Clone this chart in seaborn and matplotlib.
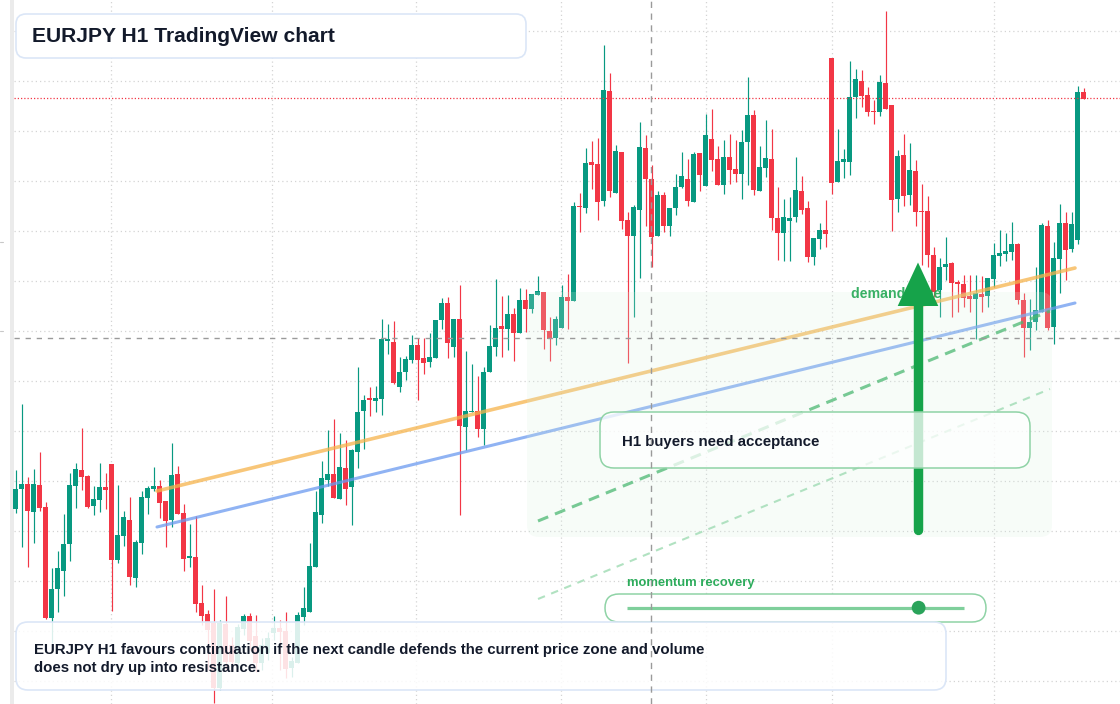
"""EURJPY H1 candlestick chart with annotation overlays."""
import matplotlib

matplotlib.use("Agg")
import matplotlib.pyplot as plt
import numpy as np
import pandas as pd
import seaborn as sns
from matplotlib.patches import FancyBboxPatch, Polygon, Circle, Rectangle
from matplotlib.transforms import Affine2D

W, H = 1120, 704

# ---- candle data (EURJPY, H1) ----
opens = [
    162.455, 162.555, 162.580, 162.440, 162.575, 162.465, 161.910, 162.055, 162.145, 162.280,
    162.570, 162.650, 162.620, 162.470, 162.500, 162.565, 162.680, 162.200, 162.320, 162.400,
    162.110, 162.285, 162.510, 162.555, 162.570, 162.495, 162.400, 162.630, 162.435, 162.210,
    162.215, 161.985, 161.930, 161.885, 161.560, 161.880, 161.775, 161.685, 161.855, 161.920,
    161.820, 161.685, 161.735, 161.835, 161.860, 161.845, 161.660, 161.685, 161.915, 161.940,
    162.165, 162.425, 162.600, 162.630, 162.505, 162.660, 162.565, 162.740, 162.945, 163.005,
    162.995, 163.005, 163.295, 163.290, 163.065, 163.140, 163.200, 163.275, 163.210, 163.190,
    163.210, 163.400, 163.485, 163.265, 163.405, 162.865, 162.940, 162.945, 162.855, 163.140,
    163.265, 163.370, 163.355, 163.430, 163.335, 163.500, 163.455, 163.525, 163.540, 163.345,
    163.310, 163.360, 163.515, 163.495, 163.970, 163.960, 164.190, 164.180, 163.995, 164.545,
    164.035, 164.240, 163.900, 163.820, 163.950, 164.260, 164.105, 163.820, 164.025, 163.870,
    163.960, 164.065, 164.105, 163.990, 164.235, 164.070, 164.305, 164.205, 164.075, 164.215,
    164.155, 164.130, 164.290, 164.425, 164.045, 164.160, 164.205, 163.910, 163.835, 163.895,
    163.915, 164.045, 163.960, 163.715, 163.805, 163.850, 164.710, 164.090, 164.190, 164.190,
    164.515, 164.595, 164.525, 164.445, 164.440, 164.585, 164.475, 164.005, 164.225, 164.025,
    164.145, 163.945, 163.945, 163.725, 163.550, 163.665, 163.685, 163.590, 163.580, 163.520,
    163.505, 163.530, 163.520, 163.605, 163.720, 163.730, 163.740, 163.780, 163.500, 163.360,
    163.390, 163.440, 163.870, 163.365, 163.705, 163.885, 163.755, 163.800, 164.540,
]
highs = [
    162.650, 162.980, 162.615, 162.655, 162.740, 162.490, 162.160, 162.245, 162.430, 162.635,
    162.685, 162.860, 162.625, 162.570, 162.685, 162.635, 162.680, 162.575, 162.445, 162.515,
    162.300, 162.545, 162.570, 162.665, 162.600, 162.495, 162.785, 162.670, 162.480, 162.380,
    162.420, 162.075, 161.950, 162.055, 161.900, 162.020, 161.815, 161.880, 161.930, 161.935,
    161.925, 161.810, 161.840, 161.920, 161.900, 161.940, 161.715, 161.940, 162.065, 162.285,
    162.545, 162.695, 162.850, 162.905, 162.835, 162.800, 162.755, 163.165, 163.025, 163.065,
    163.070, 163.405, 163.380, 163.395, 163.215, 163.220, 163.325, 163.310, 163.310, 163.335,
    163.400, 163.510, 163.515, 163.405, 163.575, 163.245, 163.180, 163.120, 163.165, 163.375,
    163.605, 163.520, 163.525, 163.460, 163.560, 163.555, 163.530, 163.620, 163.540, 163.415,
    163.420, 163.575, 163.630, 163.990, 164.035, 164.260, 164.295, 164.310, 164.775, 164.635,
    164.275, 164.240, 163.940, 163.975, 164.390, 164.325, 164.175, 164.045, 164.040, 163.960,
    164.130, 164.240, 164.205, 164.240, 164.235, 164.430, 164.455, 164.270, 164.300, 164.330,
    164.300, 164.350, 164.615, 164.450, 164.270, 164.400, 164.355, 164.065, 164.005, 164.015,
    164.215, 164.120, 163.995, 163.810, 163.885, 164.000, 164.710, 164.355, 164.255, 164.695,
    164.655, 164.650, 164.565, 164.500, 164.625, 164.945, 164.475, 164.250, 164.330, 164.285,
    164.200, 164.080, 164.020, 163.765, 163.710, 163.815, 163.690, 163.600, 163.625, 163.625,
    163.625, 163.620, 163.610, 163.785, 163.850, 163.835, 163.890, 163.785, 163.535, 163.505,
    163.665, 163.885, 163.900, 163.790, 163.980, 163.940, 163.940, 164.570, 164.560,
]
lows = [
    162.435, 162.265, 162.165, 162.285, 162.445, 161.905, 161.785, 161.940, 162.020, 162.195,
    162.460, 162.550, 162.460, 162.425, 162.440, 162.455, 161.945, 162.185, 162.270, 162.075,
    162.065, 162.230, 162.430, 162.545, 162.410, 162.265, 162.365, 162.430, 162.145, 162.165,
    161.940, 161.875, 161.650, 161.485, 161.550, 161.650, 161.650, 161.660, 161.825, 161.750,
    161.640, 161.650, 161.700, 161.800, 161.650, 161.610, 161.615, 161.685, 161.875, 161.940,
    162.165, 162.385, 162.570, 162.510, 162.505, 162.475, 162.375, 162.660, 162.755, 162.920,
    162.940, 162.925, 163.230, 163.080, 163.040, 163.100, 163.185, 163.000, 163.130, 163.165,
    163.210, 163.355, 163.210, 163.215, 162.425, 162.750, 162.940, 162.815, 162.775, 163.140,
    163.220, 163.215, 163.250, 163.195, 163.335, 163.340, 163.435, 163.525, 163.255, 163.195,
    163.275, 163.360, 163.355, 163.495, 163.840, 163.935, 164.055, 163.900, 163.970, 164.015,
    164.035, 163.855, 163.185, 163.415, 163.610, 163.870, 163.665, 163.820, 163.840, 163.820,
    163.925, 164.060, 163.970, 163.990, 164.045, 164.070, 164.145, 164.075, 164.030, 164.080,
    164.090, 164.005, 164.075, 164.025, 164.045, 164.115, 163.850, 163.700, 163.695, 163.695,
    163.890, 163.930, 163.690, 163.675, 163.755, 163.765, 164.030, 164.090, 164.110, 164.125,
    164.410, 164.465, 164.420, 164.380, 164.420, 164.455, 163.845, 163.940, 163.970, 163.975,
    163.870, 163.675, 163.665, 163.515, 163.415, 163.600, 163.415, 163.440, 163.465, 163.440,
    163.305, 163.440, 163.465, 163.565, 163.670, 163.695, 163.700, 163.480, 163.215, 163.250,
    163.350, 163.440, 163.350, 163.280, 163.535, 163.600, 163.740, 163.780, 164.505,
]
closes = [
    162.555, 162.580, 162.445, 162.580, 162.460, 161.910, 162.055, 162.160, 162.280, 162.575,
    162.655, 162.615, 162.465, 162.505, 162.565, 162.550, 162.200, 162.325, 162.415, 162.115,
    162.290, 162.515, 162.560, 162.570, 162.485, 162.395, 162.625, 162.430, 162.205, 162.215,
    161.980, 161.920, 161.850, 161.560, 161.885, 161.690, 161.690, 161.865, 161.920, 161.795,
    161.685, 161.775, 161.810, 161.860, 161.840, 161.655, 161.695, 161.925, 161.960, 162.170,
    162.440, 162.610, 162.630, 162.510, 162.665, 162.555, 162.750, 162.940, 163.000, 163.000,
    163.010, 163.305, 163.305, 163.085, 163.140, 163.205, 163.275, 163.200, 163.185, 163.215,
    163.400, 163.485, 163.285, 163.405, 162.870, 162.945, 162.945, 162.855, 163.140, 163.270,
    163.360, 163.355, 163.430, 163.335, 163.500, 163.455, 163.530, 163.545, 163.350, 163.305,
    163.405, 163.515, 163.495, 163.970, 163.965, 164.185, 164.175, 163.990, 164.550, 164.045,
    164.245, 163.895, 163.820, 163.965, 164.265, 164.105, 163.815, 164.025, 163.870, 163.960,
    164.065, 164.120, 163.995, 164.230, 164.125, 164.325, 164.200, 164.075, 164.215, 164.150,
    164.130, 164.290, 164.425, 164.050, 164.165, 164.210, 163.910, 163.835, 163.915, 163.910,
    164.050, 163.950, 163.715, 163.810, 163.850, 163.830, 164.085, 164.195, 164.205, 164.515,
    164.605, 164.520, 164.440, 164.440, 164.590, 164.455, 164.000, 164.220, 164.020, 164.150,
    163.940, 163.940, 163.725, 163.540, 163.665, 163.680, 163.585, 163.580, 163.510, 163.505,
    163.535, 163.515, 163.610, 163.725, 163.735, 163.745, 163.780, 163.500, 163.360, 163.390,
    163.450, 163.875, 163.360, 163.710, 163.885, 163.750, 163.880, 164.540, 164.505,
]

# ---- drawn levels / trend lines (bar index, price) ----
orange_x = [23.55, 176.55]
orange_y = [162.545, 163.660]
blue_x = [23.55, 176.55]
blue_y = [162.365, 163.485]
guide_x = [87.05, 172.38]
guide_y = [162.395, 163.445]
guide_faint_y = [162.005, 163.055]
resistance_level = 164.510
pivot_level = 163.310
cursor_bar = 105.9
grid_bars = [15.8, 42.8, 66.8, 90.8, 115.0, 136.0, 163.0]
grid_prices = [164.845 - 0.25 * k for k in range(14)]

title_text = "EURJPY H1 TradingView chart"
note_text = ("EURJPY H1 favours continuation if the next candle defends the current price zone and volume\n"
             "does not dry up into resistance.")
box_text = "H1 buyers need acceptance"
zone_text = "demand zone"
meter_text = "momentum recovery"
meter_value = 0.866

UP, DOWN = "#089981", "#f23645"
INK = "#131a2b"
GREEN = "#16a34a"


def main() -> None:
    sns.set_theme(style="white")
    plt.rcParams["font.family"] = ["Liberation Sans", "DejaVu Sans"]

    df = pd.DataFrame({"open": opens, "high": highs, "low": lows, "close": closes})
    df["bar"] = np.arange(len(df))
    df["up"] = df["close"] >= df["open"]
    df["color"] = np.where(df["up"], UP, DOWN)

    fig = plt.figure(figsize=(W / 100, H / 100), dpi=100, facecolor="white")
    ax = fig.add_axes([0, 0, 1, 1])
    ax.set_xlim(-15.7 / 6, (W - 15.7) / 6)
    ax.set_ylim(165.0 - H / 200, 165.0)
    ax.axis("off")
    # pixel coordinates, origin top-left
    px = Affine2D().scale(1 / W, -1 / H).translate(0, 1) + fig.transFigure

    # left strip + tiny ticks
    ax.add_patch(Rectangle((10, 0), 4, H, transform=px, color="#ebebeb", lw=0, zorder=0.5))
    for ty in (242, 331):
        ax.plot([0, 2.5], [ty, ty], transform=px, color="#c8c8c8", lw=0.8, zorder=0.5)

    # grid
    for gp in grid_prices:
        ax.axhline(gp, xmin=14 / W, xmax=1, color="#d4d4d4", lw=0.9,
                   linestyle=(0, (1.0, 2.4)), zorder=1)
    for gb in grid_bars:
        ax.axvline(gb, color="#d4d4d4", lw=0.9, linestyle=(0, (1.0, 2.4)), zorder=1)

    # candles
    ax.vlines(df["bar"], df["low"], df["high"], colors=df["color"], lw=0.85, zorder=2)
    bottoms = np.minimum(df["open"], df["close"])
    heights = np.maximum((df["close"] - df["open"]).abs(), 0.0075)
    ax.bar(df["bar"], heights, bottom=bottoms, width=0.8, color=df["color"], lw=0, zorder=2.1)

    # trend lines
    sns.lineplot(x=orange_x, y=orange_y, ax=ax, color="#f6b44c", lw=2.6, alpha=0.75, zorder=3)
    sns.lineplot(x=blue_x, y=blue_y, ax=ax, color="#6b9af0", lw=2.2, alpha=0.75, zorder=3)

    # demand zone shading
    ax.add_patch(FancyBboxPatch((527, 292), 525, 245, transform=px,
                                boxstyle="round,pad=0,rounding_size=12",
                                fc="#d9f2e0", ec="none", alpha=0.2, zorder=4))

    # projection guides
    sns.lineplot(x=guide_x, y=guide_y, ax=ax, color="#4cb873", lw=2.2, alpha=0.75,
                 linestyle=(0, (3.6, 2.4)), zorder=5)
    sns.lineplot(x=guide_x, y=guide_faint_y, ax=ax, color="#a9dfbb", lw=1.5, alpha=0.9,
                 linestyle=(0, (3.6, 3.2)), zorder=5)

    # levels
    ax.axhline(pivot_level, xmin=14 / W, color="#9a9a9a", lw=1.0,
               linestyle=(0, (3.8, 4.2)), zorder=6)
    ax.axhline(resistance_level, xmin=14 / W, color=DOWN, lw=0.9,
               linestyle=(0, (1.0, 1.6)), zorder=6)

    # demand zone label and arrow
    ax.text(851, 294, zone_text, transform=px, color=GREEN, alpha=0.85, fontsize=10.2,
            fontweight="bold", va="center", ha="left", zorder=6.5)
    ax.plot([918, 918], [530, 300], transform=px, color=GREEN, lw=6.8,
            solid_capstyle="round", zorder=7)
    ax.add_patch(Polygon([(897.7, 306), (938.3, 306), (918, 262.5)], closed=True,
                         transform=px, fc=GREEN, ec="none", zorder=7))

    # acceptance box
    ax.add_patch(FancyBboxPatch((600, 412), 430, 56, transform=px,
                                boxstyle="round,pad=0,rounding_size=14",
                                fc="white", ec="none", alpha=0.75, zorder=8))
    ax.add_patch(FancyBboxPatch((600, 412), 430, 56, transform=px,
                                boxstyle="round,pad=0,rounding_size=14",
                                fc="none", ec="#8fd3a6", lw=1.1, zorder=8.1))
    ax.text(622, 442, box_text, transform=px, color=INK, fontsize=10.8,
            fontweight="bold", va="center", ha="left", zorder=8.5)

    # momentum meter
    ax.text(627, 583, meter_text, transform=px, color=GREEN, alpha=0.9, fontsize=9.4,
            fontweight="bold", va="center", ha="left", zorder=8.5)
    ax.add_patch(FancyBboxPatch((605, 594), 381, 28, transform=px,
                                boxstyle="round,pad=0,rounding_size=14",
                                fc="white", ec="#8fd3a6", lw=1.1, zorder=8))
    x0, x1 = 627.3, 963.7
    ax.plot([x0, x1], [607.7, 607.7], transform=px, color="#7fcf9b", lw=2.3,
            solid_capstyle="butt", zorder=8.3)
    ax.add_patch(Circle((x0 + meter_value * (x1 - x0), 607.7), 6.9, transform=px,
                        fc="#2aa35a", ec="none", zorder=8.4))

    # bottom note
    ax.add_patch(FancyBboxPatch((16, 622), 930, 68, transform=px,
                                boxstyle="round,pad=0,rounding_size=12",
                                fc="white", ec="none", alpha=0.86, zorder=9))
    ax.add_patch(FancyBboxPatch((16, 622), 930, 68, transform=px,
                                boxstyle="round,pad=0,rounding_size=12",
                                fc="none", ec="#dbe6f7", lw=1.2, zorder=9.1))
    ax.text(34, 659, note_text, transform=px, color=INK, fontsize=10.8,
            fontweight="bold", va="center", ha="left", linespacing=1.45, zorder=9.5)

    # title
    ax.add_patch(FancyBboxPatch((16, 14), 510, 44, transform=px,
                                boxstyle="round,pad=0,rounding_size=10",
                                fc="white", ec="#dbe6f7", lw=1.2, zorder=10))
    ax.text(32, 36, title_text, transform=px, color=INK, fontsize=15.1,
            fontweight="bold", va="center", ha="left", zorder=10.5)

    # crosshair cursor
    ax.axvline(cursor_bar, color="#9a9a9a", lw=1.0, linestyle=(0, (4.5, 4.0)), zorder=11)

    fig.savefig("out.png", dpi=100, facecolor="white")
    plt.close(fig)


if __name__ == "__main__":
    main()
